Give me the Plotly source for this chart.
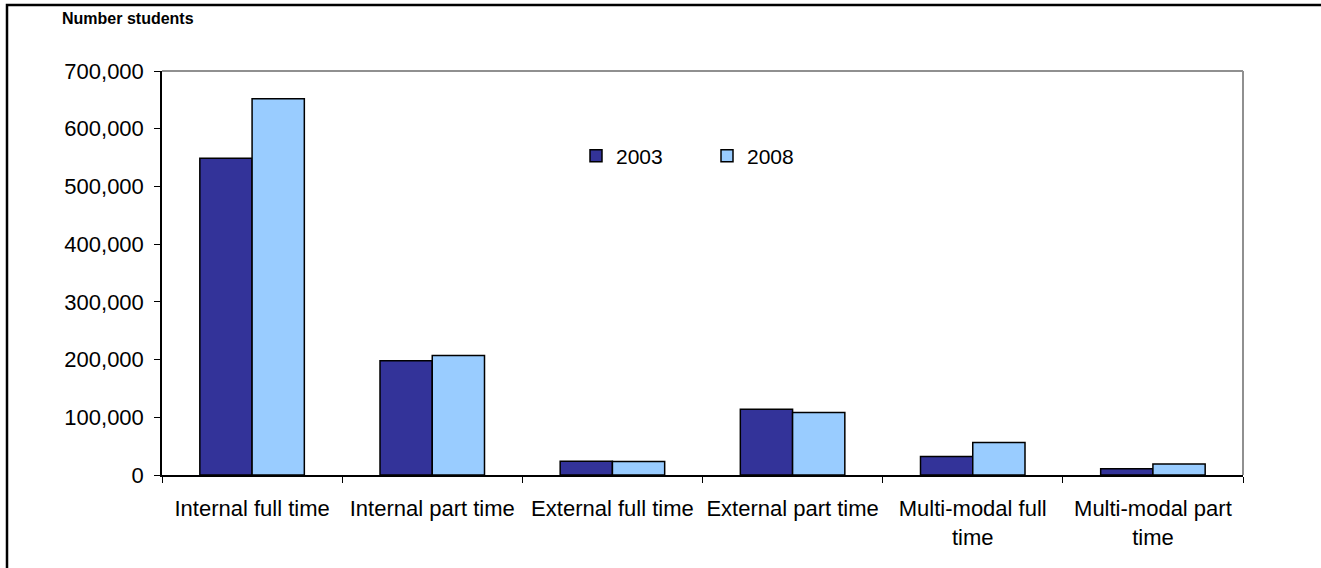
import plotly.graph_objects as go

categories = [
    "Internal full time",
    "Internal part time",
    "External full time",
    "External part time",
    "Multi-modal full<br>time",
    "Multi-modal part<br>time",
]
students_2003 = [549000, 198000, 24000, 114000, 32000, 11000]
students_2008 = [652000, 207000, 23500, 108500, 56500, 19000]
y_ticks = [0, 100000, 200000, 300000, 400000, 500000, 600000, 700000]

W, H = 1321, 568
L, R, T, B = 162, 1243, 71, 475  # plot area in pixels


def px(x):
    return (x - L) / (R - L)


def py(y):
    return (B - y) / (B - T)


fig = go.Figure()
fig.add_trace(go.Bar(
    x=categories, y=students_2003, name="2003",
    marker=dict(color="#333399", line=dict(color="#000000", width=1.5)),
))
fig.add_trace(go.Bar(
    x=categories, y=students_2008, name="2008",
    marker=dict(color="#99CCFF", line=dict(color="#000000", width=1.5)),
))

FAMILY = "Liberation Sans, Arial, sans-serif"
font = dict(family=FAMILY, size=22, color="#000000")

fig.update_layout(
    width=W, height=H,
    margin=dict(l=L, r=W - R, t=T, b=H - B),
    paper_bgcolor="#ffffff", plot_bgcolor="#ffffff",
    barmode="group", bargap=0.42, bargroupgap=0,
    font=font,
    showlegend=True,
    legend=dict(
        orientation="h", x=px(576), y=py(156), xanchor="left", yanchor="middle",
        font=dict(family=FAMILY, size=21, color="#000000"),
        entrywidth=86, entrywidthmode="pixels",
        bgcolor="rgba(0,0,0,0)",
    ),
    xaxis=dict(
        type="category", showgrid=False, showline=True, linecolor="#000000", linewidth=1.5,
        ticks="outside", tickson="boundaries", ticklen=6, tickcolor="#000000",
        tickfont=font, ticklabelstandoff=13, tickangle=0, automargin=False,
    ),
    yaxis=dict(
        range=[0, 700000], tickvals=y_ticks, tickformat=",",
        showgrid=False, showline=True, linecolor="#000000", linewidth=1.5,
        ticks="outside", ticklen=6, tickcolor="#000000", zeroline=False,
        tickfont=font, ticklabelstandoff=6, automargin=False,
    ),
    shapes=[
        # gray frame on top and right of the plot area
        dict(type="line", xref="paper", yref="paper", x0=0, x1=1, y0=1, y1=1,
             line=dict(color="#909090", width=2)),
        dict(type="line", xref="paper", yref="paper", x0=1, x1=1, y0=0, y1=1,
             line=dict(color="#909090", width=2)),
        # outer chart border; right and bottom edges sit past the page edge
        dict(type="rect", xref="paper", yref="paper",
             x0=px(7), x1=px(W + 40), y0=py(5), y1=py(H + 40),
             line=dict(color="#000000", width=2.5), fillcolor="rgba(0,0,0,0)"),
    ],
    annotations=[
        dict(text="<b>Number students</b>", xref="paper", yref="paper",
             x=px(60), y=py(18), xanchor="left", yanchor="middle", showarrow=False,
             font=dict(family=FAMILY, size=16, color="#000000")),
    ],
)

fig.write_html("out.html")
